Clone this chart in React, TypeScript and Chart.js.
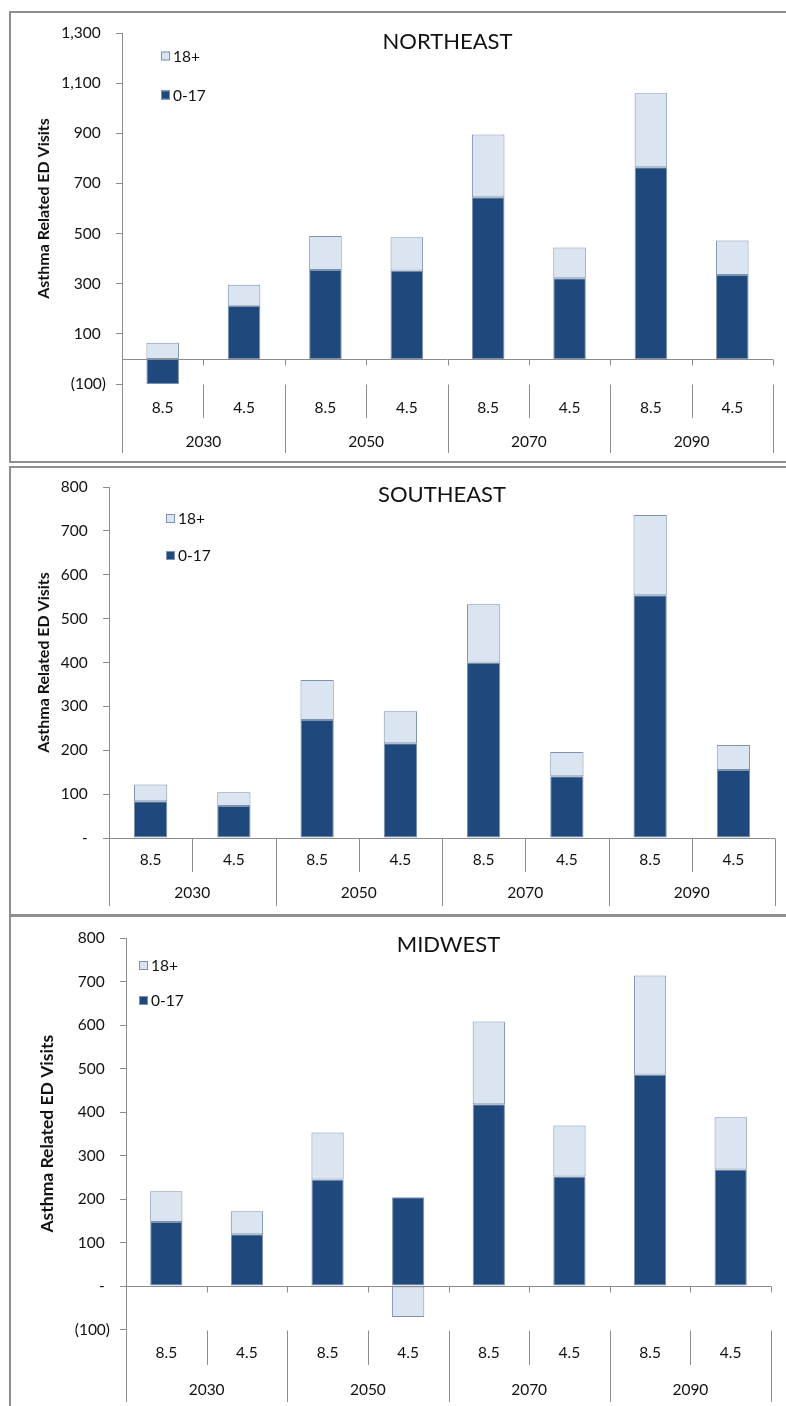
import React, { useEffect, useRef } from 'react';
import { Chart, registerables } from 'chart.js';

Chart.register(...registerables);

// ---------- data ----------
const categories = ['8.5', '4.5', '8.5', '4.5', '8.5', '4.5', '8.5', '4.5'];
const years = ['2030', '2050', '2070', '2090'];
const seriesChildren = '0-17';
const seriesAdults = '18+';

const neChildren = [-100, 212, 355, 353, 645, 322, 765, 335];
const neAdults = [65, 84, 135, 132, 250, 122, 295, 137];
const neTicks = [-100, 100, 300, 500, 700, 900, 1100, 1300];

const seChildren = [84, 73, 269, 216, 400, 141, 553, 155];
const seAdults = [38, 31, 91, 73, 133, 55, 183, 57];
const seTicks = [0, 100, 200, 300, 400, 500, 600, 700, 800];

const mwChildren = [147, 119, 245, 204, 418, 252, 486, 268];
const mwAdults = [71, 53, 108, -71, 190, 117, 228, 120];
const mwTicks = [-100, 0, 100, 200, 300, 400, 500, 600, 700, 800];

const yTitle = 'Asthma Related ED Visits';

// ---------- style ----------
const FONT = 'Lato, "Open Sans", "DejaVu Sans", sans-serif';
const DARK = '#1f497d';
const LIGHT = '#dbe5f1';
const EDGE = '#7d92ad';
const AXIS = '#8c8c8c';
const TEXT = '#111111';
const W = 786;
const H = 1406;

type Layout = {
  left: number; right: number; top: number; bottom: number;
  titleY: number; titleSize: number;
  yTitleX: number; yTitleSize: number;
  legendX: number; legendY: number; legendGap: number;
  innerEnd: number; groupEnd: number;
  catY: number; yearY: number;
};

type PanelCfg = {
  name: string;
  children: number[];
  adults: number[];
  ticks: number[];
  layout: Layout;
};

const panels: PanelCfg[] = [
  {
    name: 'NORTHEAST', children: neChildren, adults: neAdults, ticks: neTicks,
    layout: {
      left: 122, right: 773, top: 33, bottom: 384,
      titleY: 42, titleSize: 22, yTitleX: 44, yTitleSize: 16,
      legendX: 161, legendY: 56, legendGap: 39,
      innerEnd: 418, groupEnd: 453, catY: 408, yearY: 442,
    },
  },
  {
    name: 'SOUTHEAST', children: seChildren, adults: seAdults, ticks: seTicks,
    layout: {
      left: 109, right: 775, top: 487, bottom: 838,
      titleY: 495, titleSize: 22, yTitleX: 44, yTitleSize: 16,
      legendX: 166, legendY: 518.5, legendGap: 37,
      innerEnd: 872, groupEnd: 906, catY: 860, yearY: 893,
    },
  },
  {
    name: 'MIDWEST', children: mwChildren, adults: mwAdults, ticks: mwTicks,
    layout: {
      left: 126, right: 771, top: 938, bottom: 1329.5,
      titleY: 945, titleSize: 22, yTitleX: 47, yTitleSize: 17.5,
      legendX: 139, legendY: 965.5, legendGap: 35,
      innerEnd: 1365, groupEnd: 1402, catY: 1353, yearY: 1390,
    },
  },
];

function fmt(v: number): string {
  if (v === 0) return '-\u2004';
  if (v < 0) return '(' + Math.abs(v).toLocaleString('en-US') + ')';
  return v.toLocaleString('en-US') + '\u2004';
}

function line(ctx: CanvasRenderingContext2D, x1: number, y1: number, x2: number, y2: number) {
  ctx.beginPath();
  ctx.moveTo(x1, y1);
  ctx.lineTo(x2, y2);
  ctx.stroke();
}

function makePlugin(cfg: PanelCfg) {
  const L = cfg.layout;
  return {
    id: 'excelPanel',
    afterDatasetsDraw(chart: any) {
      const ctx: CanvasRenderingContext2D = chart.ctx;
      const area = chart.chartArea;
      const xs = chart.scales.x;
      const ys = chart.scales.y;
      const y0 = Math.round(ys.getPixelForValue(0)) + 0.5;
      const bottomPx = Math.round(area.bottom) + 0.5;
      const zeroIsBottom = Math.abs(y0 - bottomPx) < 1.5;
      const n = categories.length;
      const cw = (area.right - area.left) / n;

      ctx.save();
      ctx.strokeStyle = AXIS;
      ctx.lineWidth = 1;
      // horizontal axis at zero
      line(ctx, area.left, y0, area.right, y0);
      for (let i = 0; i <= n; i++) {
        const bx = Math.round(area.left + i * cw) + 0.5;
        const end = i % 2 === 0 ? L.groupEnd : L.innerEnd;
        if (zeroIsBottom) {
          line(ctx, bx, y0, bx, end);
        } else {
          line(ctx, bx, y0, bx, y0 + 6);
          line(ctx, bx, bottomPx, bx, end);
        }
      }

      // category labels
      ctx.fillStyle = TEXT;
      ctx.textAlign = 'center';
      ctx.textBaseline = 'middle';
      ctx.font = `15.5px ${FONT}`;
      categories.forEach((c, i) => {
        ctx.fillText(c, xs.getPixelForValue(i), L.catY);
      });
      years.forEach((yr, g) => {
        ctx.fillText(yr, area.left + (2 * g + 1) * cw, L.yearY);
      });

      // chart title
      ctx.font = `${L.titleSize}px ${FONT}`;
      ctx.fillText(cfg.name, (area.left + area.right) / 2, L.titleY);

      // y axis title
      ctx.save();
      ctx.translate(L.yTitleX, (area.top + area.bottom) / 2);
      ctx.rotate(-Math.PI / 2);
      ctx.font = `bold ${L.yTitleSize}px ${FONT}`;
      ctx.fillText(yTitle, 0, 0);
      ctx.restore();

      // legend (reverse order as in stacked chart)
      const items = [chart.data.datasets[1], chart.data.datasets[0]];
      ctx.textAlign = 'left';
      ctx.font = `15.5px ${FONT}`;
      items.forEach((ds: any, k: number) => {
        const cy = L.legendY + k * L.legendGap;
        const bx = L.legendX;
        ctx.fillStyle = ds.backgroundColor;
        ctx.fillRect(bx, cy - 4.5, 9, 9);
        ctx.strokeStyle = EDGE;
        ctx.strokeRect(bx + 0.5, cy - 4, 8, 8);
        ctx.fillStyle = TEXT;
        ctx.fillText(ds.label, bx + 12, cy + 0.5);
      });
      ctx.restore();
    },
  };
}

function Panel({ cfg }: { cfg: PanelCfg }) {
  const ref = useRef<HTMLCanvasElement | null>(null);
  useEffect(() => {
    if (!ref.current) return;
    const L = cfg.layout;
    const ticks = cfg.ticks;
    const chart = new Chart(ref.current, {
      type: 'bar',
      data: {
        labels: categories,
        datasets: [
          {
            label: seriesChildren, data: cfg.children, backgroundColor: DARK,
            borderColor: EDGE, borderWidth: 1, borderSkipped: false,
            barPercentage: 0.4, categoryPercentage: 1,
          },
          {
            label: seriesAdults, data: cfg.adults, backgroundColor: LIGHT,
            borderColor: EDGE, borderWidth: 1, borderSkipped: false,
            barPercentage: 0.4, categoryPercentage: 1,
          },
        ],
      },
      options: {
        responsive: false,
        maintainAspectRatio: false,
        animation: false,
        devicePixelRatio: 1,
        events: [],
        layout: {
          padding: { left: 0, right: W - L.right, top: L.top, bottom: H - L.bottom },
        },
        plugins: {
          legend: { display: false },
          tooltip: { enabled: false },
          title: { display: false },
        },
        scales: {
          x: { type: 'category', stacked: true, display: false, offset: true },
          y: {
            type: 'linear',
            stacked: true,
            min: ticks[0],
            max: ticks[ticks.length - 1],
            afterBuildTicks: (s: any) => { s.ticks = ticks.map((v) => ({ value: v })); },
            afterFit: (s: any) => { s.width = L.left; },
            grid: { drawOnChartArea: false, drawTicks: true, tickLength: 6, color: AXIS, lineWidth: 1 },
            border: { display: true, color: AXIS, width: 1 },
            ticks: {
              autoSkip: false,
              padding: 10,
              color: TEXT,
              font: { family: FONT, size: 15.5 },
              callback: (v: any) => fmt(Number(v)),
            },
          },
        },
      } as any,
      plugins: [makePlugin(cfg)],
    });
    return () => chart.destroy();
  }, [cfg]);
  return (
    <canvas
      ref={ref}
      width={W}
      height={H}
      style={{ position: 'absolute', left: 0, top: 0, width: W, height: H, pointerEvents: 'none' }}
    />
  );
}

const frameColor = '#8f8f8f';

export default function App() {
  return (
    <div style={{ position: 'absolute', left: 0, top: 0, width: W, height: H, overflow: 'hidden', background: '#ffffff' }}>
      <div style={{ position: 'absolute', left: 9, top: 11, width: 800, height: 452, boxSizing: 'border-box', borderTop: `2px solid ${frameColor}`, borderLeft: `2px solid ${frameColor}`, borderBottom: `2px solid ${frameColor}` }} />
      <div style={{ position: 'absolute', left: 9, top: 466, width: 800, height: 450, boxSizing: 'border-box', borderTop: `2px solid ${frameColor}`, borderLeft: `2px solid ${frameColor}`, borderBottom: `2px solid ${frameColor}` }} />
      <div style={{ position: 'absolute', left: 9, top: 915, width: 800, height: 520, boxSizing: 'border-box', borderTop: `2px solid ${frameColor}`, borderLeft: `2px solid ${frameColor}` }} />
      {panels.map((p) => (
        <Panel key={p.name} cfg={p} />
      ))}
    </div>
  );
}
